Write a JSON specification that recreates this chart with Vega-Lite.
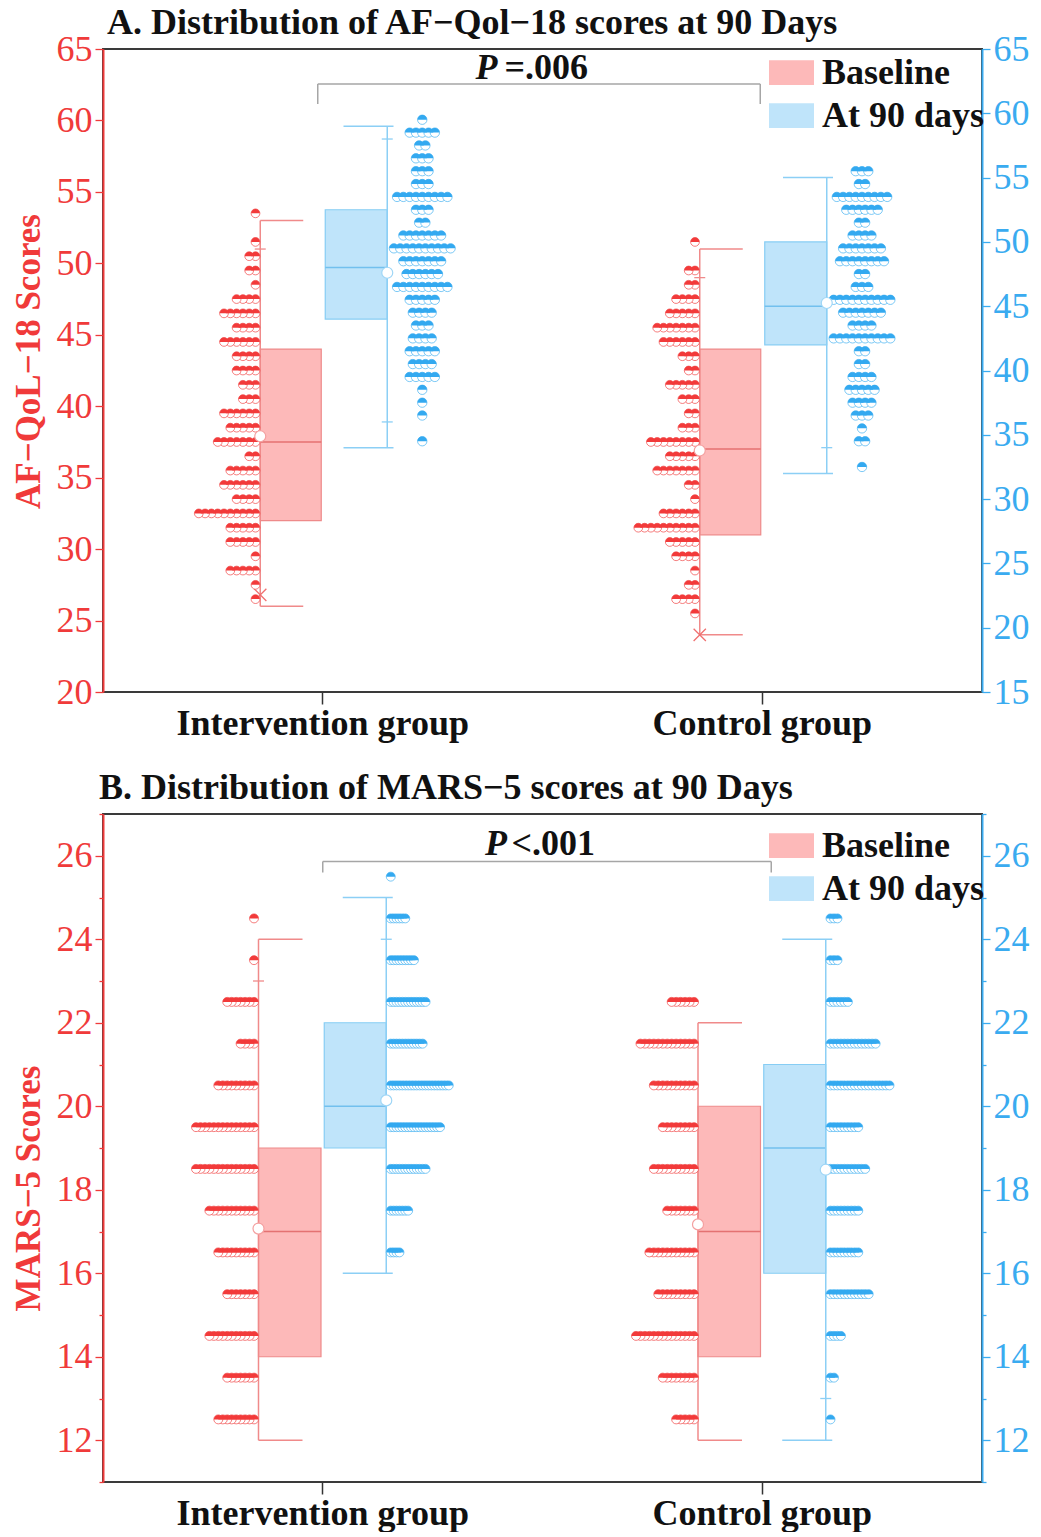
{
"$schema": "https://vega.github.io/schema/vega-lite/v6.json",
"background": "white",
"padding": {"left": 10, "top": 4, "right": 0, "bottom": 0},
"spacing": 27,
"config": {
 "font": "Liberation Serif",
 "view": {"stroke": "#3a3a3a", "strokeWidth": 2},
 "axis": {"labelFont": "Liberation Serif", "titleFont": "Liberation Serif", "grid": false},
 "title": {"font": "Liberation Serif", "fontSize": 36, "fontWeight": "bold", "color": "#111111", "anchor": "start", "frame": "group"}
},
"resolve": {"scale": {"color": "independent"}},
"datasets": {
 "sA": [
  {"g":"I","s":"Baseline","lo":26,"q1":32,"med":37.5,"q3":44,"hi":53,"mean":37.9},
  {"g":"C","s":"Baseline","lo":24,"q1":31,"med":37,"q3":44,"hi":51,"mean":36.9},
  {"g":"I","s":"At 90 days","lo":34,"q1":44,"med":48,"q3":52.5,"hi":59,"mean":47.6},
  {"g":"C","s":"At 90 days","lo":32,"q1":42,"med":45,"q3":50,"hi":55,"mean":45.25}
 ],
 "sB": [
  {"g":"I","s":"Baseline","lo":12,"q1":14,"med":17,"q3":19,"hi":24,"mean":17.07},
  {"g":"C","s":"Baseline","lo":12,"q1":14,"med":17,"q3":20,"hi":22,"mean":17.17},
  {"g":"I","s":"At 90 days","lo":16,"q1":19,"med":20,"q3":22,"hi":25,"mean":20.14},
  {"g":"C","s":"At 90 days","lo":12,"q1":16,"med":19,"q3":21,"hi":24,"mean":18.48}
 ],
 "mA": [
  {"g":"I","s":"b","v":51,"k":"dash"},{"g":"I","s":"b","v":26.8,"k":"cross"},
  {"g":"C","s":"b","v":49,"k":"dash"},{"g":"C","s":"b","v":24,"k":"cross"},
  {"g":"I","s":"a","v":58,"k":"dash"},{"g":"I","s":"a","v":36,"k":"dash"},
  {"g":"C","s":"a","v":34,"k":"dash"}
 ],
 "mB": [
  {"g":"I","s":"b","v":23,"k":"dash"},{"g":"I","s":"a","v":24,"k":"dash"},{"g":"C","s":"a","v":13,"k":"dash"}
 ],
 "nA": [{"g1":"I","g2":"C","top":62.55,"bot":61.15,"ty":62.9,"p":"P","t":"=.006"}],
 "nB": [{"g1":"I","g2":"C","top":25.86,"bot":25.6,"ty":26.02,"p":"P","t":"<.001"}],
 "Ab": [
  {"g":"I","v":53.5},
  {"g":"I","v":51.5},
  {"g":"I","v":50.5},{"g":"I","v":50.5},
  {"g":"I","v":49.5},{"g":"I","v":49.5},
  {"g":"I","v":48.5},
  {"g":"I","v":47.5},{"g":"I","v":47.5},{"g":"I","v":47.5},{"g":"I","v":47.5},
  {"g":"I","v":46.5},{"g":"I","v":46.5},{"g":"I","v":46.5},{"g":"I","v":46.5},{"g":"I","v":46.5},{"g":"I","v":46.5},
  {"g":"I","v":45.5},{"g":"I","v":45.5},{"g":"I","v":45.5},{"g":"I","v":45.5},
  {"g":"I","v":44.5},{"g":"I","v":44.5},{"g":"I","v":44.5},{"g":"I","v":44.5},{"g":"I","v":44.5},{"g":"I","v":44.5},
  {"g":"I","v":43.5},{"g":"I","v":43.5},{"g":"I","v":43.5},{"g":"I","v":43.5},
  {"g":"I","v":42.5},{"g":"I","v":42.5},{"g":"I","v":42.5},{"g":"I","v":42.5},
  {"g":"I","v":41.5},{"g":"I","v":41.5},{"g":"I","v":41.5},
  {"g":"I","v":40.5},{"g":"I","v":40.5},{"g":"I","v":40.5},
  {"g":"I","v":39.5},{"g":"I","v":39.5},{"g":"I","v":39.5},{"g":"I","v":39.5},{"g":"I","v":39.5},{"g":"I","v":39.5},
  {"g":"I","v":38.5},{"g":"I","v":38.5},{"g":"I","v":38.5},{"g":"I","v":38.5},{"g":"I","v":38.5},
  {"g":"I","v":37.5},{"g":"I","v":37.5},{"g":"I","v":37.5},{"g":"I","v":37.5},{"g":"I","v":37.5},{"g":"I","v":37.5},{"g":"I","v":37.5},
  {"g":"I","v":36.5},{"g":"I","v":36.5},
  {"g":"I","v":35.5},{"g":"I","v":35.5},{"g":"I","v":35.5},{"g":"I","v":35.5},{"g":"I","v":35.5},
  {"g":"I","v":34.5},{"g":"I","v":34.5},{"g":"I","v":34.5},{"g":"I","v":34.5},{"g":"I","v":34.5},{"g":"I","v":34.5},
  {"g":"I","v":33.5},{"g":"I","v":33.5},{"g":"I","v":33.5},{"g":"I","v":33.5},
  {"g":"I","v":32.5},{"g":"I","v":32.5},{"g":"I","v":32.5},{"g":"I","v":32.5},{"g":"I","v":32.5},{"g":"I","v":32.5},{"g":"I","v":32.5},{"g":"I","v":32.5},{"g":"I","v":32.5},{"g":"I","v":32.5},
  {"g":"I","v":31.5},{"g":"I","v":31.5},{"g":"I","v":31.5},{"g":"I","v":31.5},{"g":"I","v":31.5},
  {"g":"I","v":30.5},{"g":"I","v":30.5},{"g":"I","v":30.5},{"g":"I","v":30.5},{"g":"I","v":30.5},
  {"g":"I","v":29.5},
  {"g":"I","v":28.5},{"g":"I","v":28.5},{"g":"I","v":28.5},{"g":"I","v":28.5},{"g":"I","v":28.5},
  {"g":"I","v":27.5},
  {"g":"I","v":26.5},
  {"g":"C","v":51.5},
  {"g":"C","v":49.5},{"g":"C","v":49.5},
  {"g":"C","v":48.5},{"g":"C","v":48.5},
  {"g":"C","v":47.5},{"g":"C","v":47.5},{"g":"C","v":47.5},{"g":"C","v":47.5},
  {"g":"C","v":46.5},{"g":"C","v":46.5},{"g":"C","v":46.5},{"g":"C","v":46.5},{"g":"C","v":46.5},
  {"g":"C","v":45.5},{"g":"C","v":45.5},{"g":"C","v":45.5},{"g":"C","v":45.5},{"g":"C","v":45.5},{"g":"C","v":45.5},{"g":"C","v":45.5},
  {"g":"C","v":44.5},{"g":"C","v":44.5},{"g":"C","v":44.5},{"g":"C","v":44.5},{"g":"C","v":44.5},{"g":"C","v":44.5},
  {"g":"C","v":43.5},{"g":"C","v":43.5},{"g":"C","v":43.5},
  {"g":"C","v":42.5},{"g":"C","v":42.5},
  {"g":"C","v":41.5},{"g":"C","v":41.5},{"g":"C","v":41.5},{"g":"C","v":41.5},{"g":"C","v":41.5},
  {"g":"C","v":40.5},{"g":"C","v":40.5},{"g":"C","v":40.5},
  {"g":"C","v":39.5},{"g":"C","v":39.5},
  {"g":"C","v":38.5},{"g":"C","v":38.5},{"g":"C","v":38.5},
  {"g":"C","v":37.5},{"g":"C","v":37.5},{"g":"C","v":37.5},{"g":"C","v":37.5},{"g":"C","v":37.5},{"g":"C","v":37.5},{"g":"C","v":37.5},{"g":"C","v":37.5},
  {"g":"C","v":36.5},{"g":"C","v":36.5},{"g":"C","v":36.5},{"g":"C","v":36.5},{"g":"C","v":36.5},
  {"g":"C","v":35.5},{"g":"C","v":35.5},{"g":"C","v":35.5},{"g":"C","v":35.5},{"g":"C","v":35.5},{"g":"C","v":35.5},{"g":"C","v":35.5},
  {"g":"C","v":34.5},{"g":"C","v":34.5},
  {"g":"C","v":33.5},
  {"g":"C","v":32.5},{"g":"C","v":32.5},{"g":"C","v":32.5},{"g":"C","v":32.5},{"g":"C","v":32.5},{"g":"C","v":32.5},
  {"g":"C","v":31.5},{"g":"C","v":31.5},{"g":"C","v":31.5},{"g":"C","v":31.5},{"g":"C","v":31.5},{"g":"C","v":31.5},{"g":"C","v":31.5},{"g":"C","v":31.5},{"g":"C","v":31.5},{"g":"C","v":31.5},
  {"g":"C","v":30.5},{"g":"C","v":30.5},{"g":"C","v":30.5},{"g":"C","v":30.5},{"g":"C","v":30.5},
  {"g":"C","v":29.5},{"g":"C","v":29.5},{"g":"C","v":29.5},{"g":"C","v":29.5},
  {"g":"C","v":28.5},
  {"g":"C","v":27.5},{"g":"C","v":27.5},
  {"g":"C","v":26.5},{"g":"C","v":26.5},{"g":"C","v":26.5},{"g":"C","v":26.5},
  {"g":"C","v":25.5}
 ],
 "Aa": [
  {"g":"I","v":59.5},
  {"g":"I","v":58.5},{"g":"I","v":58.5},{"g":"I","v":58.5},{"g":"I","v":58.5},{"g":"I","v":58.5},
  {"g":"I","v":57.5},{"g":"I","v":57.5},
  {"g":"I","v":56.5},{"g":"I","v":56.5},{"g":"I","v":56.5},
  {"g":"I","v":55.5},{"g":"I","v":55.5},{"g":"I","v":55.5},
  {"g":"I","v":54.5},{"g":"I","v":54.5},{"g":"I","v":54.5},
  {"g":"I","v":53.5},{"g":"I","v":53.5},{"g":"I","v":53.5},{"g":"I","v":53.5},{"g":"I","v":53.5},{"g":"I","v":53.5},{"g":"I","v":53.5},{"g":"I","v":53.5},{"g":"I","v":53.5},
  {"g":"I","v":52.5},{"g":"I","v":52.5},{"g":"I","v":52.5},
  {"g":"I","v":51.5},{"g":"I","v":51.5},
  {"g":"I","v":50.5},{"g":"I","v":50.5},{"g":"I","v":50.5},{"g":"I","v":50.5},{"g":"I","v":50.5},{"g":"I","v":50.5},{"g":"I","v":50.5},
  {"g":"I","v":49.5},{"g":"I","v":49.5},{"g":"I","v":49.5},{"g":"I","v":49.5},{"g":"I","v":49.5},{"g":"I","v":49.5},{"g":"I","v":49.5},{"g":"I","v":49.5},{"g":"I","v":49.5},{"g":"I","v":49.5},
  {"g":"I","v":48.5},{"g":"I","v":48.5},{"g":"I","v":48.5},{"g":"I","v":48.5},{"g":"I","v":48.5},{"g":"I","v":48.5},{"g":"I","v":48.5},
  {"g":"I","v":47.5},{"g":"I","v":47.5},{"g":"I","v":47.5},{"g":"I","v":47.5},{"g":"I","v":47.5},{"g":"I","v":47.5},
  {"g":"I","v":46.5},{"g":"I","v":46.5},{"g":"I","v":46.5},{"g":"I","v":46.5},{"g":"I","v":46.5},{"g":"I","v":46.5},{"g":"I","v":46.5},{"g":"I","v":46.5},{"g":"I","v":46.5},
  {"g":"I","v":45.5},{"g":"I","v":45.5},{"g":"I","v":45.5},{"g":"I","v":45.5},{"g":"I","v":45.5},
  {"g":"I","v":44.5},{"g":"I","v":44.5},{"g":"I","v":44.5},{"g":"I","v":44.5},
  {"g":"I","v":43.5},{"g":"I","v":43.5},{"g":"I","v":43.5},
  {"g":"I","v":42.5},{"g":"I","v":42.5},{"g":"I","v":42.5},{"g":"I","v":42.5},
  {"g":"I","v":41.5},{"g":"I","v":41.5},{"g":"I","v":41.5},{"g":"I","v":41.5},{"g":"I","v":41.5},
  {"g":"I","v":40.5},{"g":"I","v":40.5},{"g":"I","v":40.5},{"g":"I","v":40.5},
  {"g":"I","v":39.5},{"g":"I","v":39.5},{"g":"I","v":39.5},{"g":"I","v":39.5},{"g":"I","v":39.5},
  {"g":"I","v":38.5},
  {"g":"I","v":37.5},
  {"g":"I","v":36.5},
  {"g":"I","v":34.5},
  {"g":"C","v":55.5},{"g":"C","v":55.5},{"g":"C","v":55.5},
  {"g":"C","v":54.5},{"g":"C","v":54.5},
  {"g":"C","v":53.5},{"g":"C","v":53.5},{"g":"C","v":53.5},{"g":"C","v":53.5},{"g":"C","v":53.5},{"g":"C","v":53.5},{"g":"C","v":53.5},{"g":"C","v":53.5},{"g":"C","v":53.5},
  {"g":"C","v":52.5},{"g":"C","v":52.5},{"g":"C","v":52.5},{"g":"C","v":52.5},{"g":"C","v":52.5},{"g":"C","v":52.5},
  {"g":"C","v":51.5},{"g":"C","v":51.5},
  {"g":"C","v":50.5},{"g":"C","v":50.5},{"g":"C","v":50.5},{"g":"C","v":50.5},
  {"g":"C","v":49.5},{"g":"C","v":49.5},{"g":"C","v":49.5},{"g":"C","v":49.5},{"g":"C","v":49.5},{"g":"C","v":49.5},{"g":"C","v":49.5},
  {"g":"C","v":48.5},{"g":"C","v":48.5},{"g":"C","v":48.5},{"g":"C","v":48.5},{"g":"C","v":48.5},{"g":"C","v":48.5},{"g":"C","v":48.5},{"g":"C","v":48.5},
  {"g":"C","v":47.5},{"g":"C","v":47.5},
  {"g":"C","v":46.5},{"g":"C","v":46.5},{"g":"C","v":46.5},
  {"g":"C","v":45.5},{"g":"C","v":45.5},{"g":"C","v":45.5},{"g":"C","v":45.5},{"g":"C","v":45.5},{"g":"C","v":45.5},{"g":"C","v":45.5},{"g":"C","v":45.5},{"g":"C","v":45.5},{"g":"C","v":45.5},
  {"g":"C","v":44.5},{"g":"C","v":44.5},{"g":"C","v":44.5},{"g":"C","v":44.5},{"g":"C","v":44.5},{"g":"C","v":44.5},{"g":"C","v":44.5},
  {"g":"C","v":43.5},{"g":"C","v":43.5},{"g":"C","v":43.5},{"g":"C","v":43.5},
  {"g":"C","v":42.5},{"g":"C","v":42.5},{"g":"C","v":42.5},{"g":"C","v":42.5},{"g":"C","v":42.5},{"g":"C","v":42.5},{"g":"C","v":42.5},{"g":"C","v":42.5},{"g":"C","v":42.5},{"g":"C","v":42.5},
  {"g":"C","v":41.5},{"g":"C","v":41.5},
  {"g":"C","v":40.5},{"g":"C","v":40.5},
  {"g":"C","v":39.5},{"g":"C","v":39.5},{"g":"C","v":39.5},{"g":"C","v":39.5},
  {"g":"C","v":38.5},{"g":"C","v":38.5},{"g":"C","v":38.5},{"g":"C","v":38.5},{"g":"C","v":38.5},
  {"g":"C","v":37.5},{"g":"C","v":37.5},{"g":"C","v":37.5},{"g":"C","v":37.5},
  {"g":"C","v":36.5},{"g":"C","v":36.5},{"g":"C","v":36.5},
  {"g":"C","v":35.5},
  {"g":"C","v":34.5},{"g":"C","v":34.5},
  {"g":"C","v":32.5}
 ],
 "Bb": [
  {"g":"I","v":24.5},
  {"g":"I","v":23.5},
  {"g":"I","v":22.5},{"g":"I","v":22.5},{"g":"I","v":22.5},{"g":"I","v":22.5},{"g":"I","v":22.5},{"g":"I","v":22.5},{"g":"I","v":22.5},
  {"g":"I","v":21.5},{"g":"I","v":21.5},{"g":"I","v":21.5},{"g":"I","v":21.5},
  {"g":"I","v":20.5},{"g":"I","v":20.5},{"g":"I","v":20.5},{"g":"I","v":20.5},{"g":"I","v":20.5},{"g":"I","v":20.5},{"g":"I","v":20.5},{"g":"I","v":20.5},{"g":"I","v":20.5},
  {"g":"I","v":19.5},{"g":"I","v":19.5},{"g":"I","v":19.5},{"g":"I","v":19.5},{"g":"I","v":19.5},{"g":"I","v":19.5},{"g":"I","v":19.5},{"g":"I","v":19.5},{"g":"I","v":19.5},{"g":"I","v":19.5},{"g":"I","v":19.5},{"g":"I","v":19.5},{"g":"I","v":19.5},{"g":"I","v":19.5},
  {"g":"I","v":18.5},{"g":"I","v":18.5},{"g":"I","v":18.5},{"g":"I","v":18.5},{"g":"I","v":18.5},{"g":"I","v":18.5},{"g":"I","v":18.5},{"g":"I","v":18.5},{"g":"I","v":18.5},{"g":"I","v":18.5},{"g":"I","v":18.5},{"g":"I","v":18.5},{"g":"I","v":18.5},{"g":"I","v":18.5},
  {"g":"I","v":17.5},{"g":"I","v":17.5},{"g":"I","v":17.5},{"g":"I","v":17.5},{"g":"I","v":17.5},{"g":"I","v":17.5},{"g":"I","v":17.5},{"g":"I","v":17.5},{"g":"I","v":17.5},{"g":"I","v":17.5},{"g":"I","v":17.5},
  {"g":"I","v":16.5},{"g":"I","v":16.5},{"g":"I","v":16.5},{"g":"I","v":16.5},{"g":"I","v":16.5},{"g":"I","v":16.5},{"g":"I","v":16.5},{"g":"I","v":16.5},{"g":"I","v":16.5},
  {"g":"I","v":15.5},{"g":"I","v":15.5},{"g":"I","v":15.5},{"g":"I","v":15.5},{"g":"I","v":15.5},{"g":"I","v":15.5},{"g":"I","v":15.5},
  {"g":"I","v":14.5},{"g":"I","v":14.5},{"g":"I","v":14.5},{"g":"I","v":14.5},{"g":"I","v":14.5},{"g":"I","v":14.5},{"g":"I","v":14.5},{"g":"I","v":14.5},{"g":"I","v":14.5},{"g":"I","v":14.5},{"g":"I","v":14.5},
  {"g":"I","v":13.5},{"g":"I","v":13.5},{"g":"I","v":13.5},{"g":"I","v":13.5},{"g":"I","v":13.5},{"g":"I","v":13.5},{"g":"I","v":13.5},
  {"g":"I","v":12.5},{"g":"I","v":12.5},{"g":"I","v":12.5},{"g":"I","v":12.5},{"g":"I","v":12.5},{"g":"I","v":12.5},{"g":"I","v":12.5},{"g":"I","v":12.5},{"g":"I","v":12.5},
  {"g":"C","v":22.5},{"g":"C","v":22.5},{"g":"C","v":22.5},{"g":"C","v":22.5},{"g":"C","v":22.5},{"g":"C","v":22.5},
  {"g":"C","v":21.5},{"g":"C","v":21.5},{"g":"C","v":21.5},{"g":"C","v":21.5},{"g":"C","v":21.5},{"g":"C","v":21.5},{"g":"C","v":21.5},{"g":"C","v":21.5},{"g":"C","v":21.5},{"g":"C","v":21.5},{"g":"C","v":21.5},{"g":"C","v":21.5},{"g":"C","v":21.5},
  {"g":"C","v":20.5},{"g":"C","v":20.5},{"g":"C","v":20.5},{"g":"C","v":20.5},{"g":"C","v":20.5},{"g":"C","v":20.5},{"g":"C","v":20.5},{"g":"C","v":20.5},{"g":"C","v":20.5},{"g":"C","v":20.5},
  {"g":"C","v":19.5},{"g":"C","v":19.5},{"g":"C","v":19.5},{"g":"C","v":19.5},{"g":"C","v":19.5},{"g":"C","v":19.5},{"g":"C","v":19.5},{"g":"C","v":19.5},
  {"g":"C","v":18.5},{"g":"C","v":18.5},{"g":"C","v":18.5},{"g":"C","v":18.5},{"g":"C","v":18.5},{"g":"C","v":18.5},{"g":"C","v":18.5},{"g":"C","v":18.5},{"g":"C","v":18.5},{"g":"C","v":18.5},
  {"g":"C","v":17.5},{"g":"C","v":17.5},{"g":"C","v":17.5},{"g":"C","v":17.5},{"g":"C","v":17.5},{"g":"C","v":17.5},{"g":"C","v":17.5},
  {"g":"C","v":16.5},{"g":"C","v":16.5},{"g":"C","v":16.5},{"g":"C","v":16.5},{"g":"C","v":16.5},{"g":"C","v":16.5},{"g":"C","v":16.5},{"g":"C","v":16.5},{"g":"C","v":16.5},{"g":"C","v":16.5},{"g":"C","v":16.5},
  {"g":"C","v":15.5},{"g":"C","v":15.5},{"g":"C","v":15.5},{"g":"C","v":15.5},{"g":"C","v":15.5},{"g":"C","v":15.5},{"g":"C","v":15.5},{"g":"C","v":15.5},{"g":"C","v":15.5},
  {"g":"C","v":14.5},{"g":"C","v":14.5},{"g":"C","v":14.5},{"g":"C","v":14.5},{"g":"C","v":14.5},{"g":"C","v":14.5},{"g":"C","v":14.5},{"g":"C","v":14.5},{"g":"C","v":14.5},{"g":"C","v":14.5},{"g":"C","v":14.5},{"g":"C","v":14.5},{"g":"C","v":14.5},{"g":"C","v":14.5},
  {"g":"C","v":13.5},{"g":"C","v":13.5},{"g":"C","v":13.5},{"g":"C","v":13.5},{"g":"C","v":13.5},{"g":"C","v":13.5},{"g":"C","v":13.5},{"g":"C","v":13.5},
  {"g":"C","v":12.5},{"g":"C","v":12.5},{"g":"C","v":12.5},{"g":"C","v":12.5},{"g":"C","v":12.5}
 ],
 "Ba": [
  {"g":"I","v":25.5},
  {"g":"I","v":24.5},{"g":"I","v":24.5},{"g":"I","v":24.5},{"g":"I","v":24.5},{"g":"I","v":24.5},{"g":"I","v":24.5},
  {"g":"I","v":23.5},{"g":"I","v":23.5},{"g":"I","v":23.5},{"g":"I","v":23.5},{"g":"I","v":23.5},{"g":"I","v":23.5},{"g":"I","v":23.5},{"g":"I","v":23.5},{"g":"I","v":23.5},
  {"g":"I","v":22.5},{"g":"I","v":22.5},{"g":"I","v":22.5},{"g":"I","v":22.5},{"g":"I","v":22.5},{"g":"I","v":22.5},{"g":"I","v":22.5},{"g":"I","v":22.5},{"g":"I","v":22.5},{"g":"I","v":22.5},{"g":"I","v":22.5},{"g":"I","v":22.5},{"g":"I","v":22.5},
  {"g":"I","v":21.5},{"g":"I","v":21.5},{"g":"I","v":21.5},{"g":"I","v":21.5},{"g":"I","v":21.5},{"g":"I","v":21.5},{"g":"I","v":21.5},{"g":"I","v":21.5},{"g":"I","v":21.5},{"g":"I","v":21.5},{"g":"I","v":21.5},{"g":"I","v":21.5},
  {"g":"I","v":20.5},{"g":"I","v":20.5},{"g":"I","v":20.5},{"g":"I","v":20.5},{"g":"I","v":20.5},{"g":"I","v":20.5},{"g":"I","v":20.5},{"g":"I","v":20.5},{"g":"I","v":20.5},{"g":"I","v":20.5},{"g":"I","v":20.5},{"g":"I","v":20.5},{"g":"I","v":20.5},{"g":"I","v":20.5},{"g":"I","v":20.5},{"g":"I","v":20.5},{"g":"I","v":20.5},{"g":"I","v":20.5},{"g":"I","v":20.5},{"g":"I","v":20.5},{"g":"I","v":20.5},
  {"g":"I","v":19.5},{"g":"I","v":19.5},{"g":"I","v":19.5},{"g":"I","v":19.5},{"g":"I","v":19.5},{"g":"I","v":19.5},{"g":"I","v":19.5},{"g":"I","v":19.5},{"g":"I","v":19.5},{"g":"I","v":19.5},{"g":"I","v":19.5},{"g":"I","v":19.5},{"g":"I","v":19.5},{"g":"I","v":19.5},{"g":"I","v":19.5},{"g":"I","v":19.5},{"g":"I","v":19.5},{"g":"I","v":19.5},
  {"g":"I","v":18.5},{"g":"I","v":18.5},{"g":"I","v":18.5},{"g":"I","v":18.5},{"g":"I","v":18.5},{"g":"I","v":18.5},{"g":"I","v":18.5},{"g":"I","v":18.5},{"g":"I","v":18.5},{"g":"I","v":18.5},{"g":"I","v":18.5},{"g":"I","v":18.5},{"g":"I","v":18.5},
  {"g":"I","v":17.5},{"g":"I","v":17.5},{"g":"I","v":17.5},{"g":"I","v":17.5},{"g":"I","v":17.5},{"g":"I","v":17.5},{"g":"I","v":17.5},
  {"g":"I","v":16.5},{"g":"I","v":16.5},{"g":"I","v":16.5},{"g":"I","v":16.5},
  {"g":"C","v":24.5},{"g":"C","v":24.5},{"g":"C","v":24.5},
  {"g":"C","v":23.5},{"g":"C","v":23.5},{"g":"C","v":23.5},
  {"g":"C","v":22.5},{"g":"C","v":22.5},{"g":"C","v":22.5},{"g":"C","v":22.5},{"g":"C","v":22.5},{"g":"C","v":22.5},
  {"g":"C","v":21.5},{"g":"C","v":21.5},{"g":"C","v":21.5},{"g":"C","v":21.5},{"g":"C","v":21.5},{"g":"C","v":21.5},{"g":"C","v":21.5},{"g":"C","v":21.5},{"g":"C","v":21.5},{"g":"C","v":21.5},{"g":"C","v":21.5},{"g":"C","v":21.5},{"g":"C","v":21.5},{"g":"C","v":21.5},
  {"g":"C","v":20.5},{"g":"C","v":20.5},{"g":"C","v":20.5},{"g":"C","v":20.5},{"g":"C","v":20.5},{"g":"C","v":20.5},{"g":"C","v":20.5},{"g":"C","v":20.5},{"g":"C","v":20.5},{"g":"C","v":20.5},{"g":"C","v":20.5},{"g":"C","v":20.5},{"g":"C","v":20.5},{"g":"C","v":20.5},{"g":"C","v":20.5},{"g":"C","v":20.5},{"g":"C","v":20.5},{"g":"C","v":20.5},
  {"g":"C","v":19.5},{"g":"C","v":19.5},{"g":"C","v":19.5},{"g":"C","v":19.5},{"g":"C","v":19.5},{"g":"C","v":19.5},{"g":"C","v":19.5},{"g":"C","v":19.5},{"g":"C","v":19.5},
  {"g":"C","v":18.5},{"g":"C","v":18.5},{"g":"C","v":18.5},{"g":"C","v":18.5},{"g":"C","v":18.5},{"g":"C","v":18.5},{"g":"C","v":18.5},{"g":"C","v":18.5},{"g":"C","v":18.5},{"g":"C","v":18.5},{"g":"C","v":18.5},
  {"g":"C","v":17.5},{"g":"C","v":17.5},{"g":"C","v":17.5},{"g":"C","v":17.5},{"g":"C","v":17.5},{"g":"C","v":17.5},{"g":"C","v":17.5},{"g":"C","v":17.5},{"g":"C","v":17.5},
  {"g":"C","v":16.5},{"g":"C","v":16.5},{"g":"C","v":16.5},{"g":"C","v":16.5},{"g":"C","v":16.5},{"g":"C","v":16.5},{"g":"C","v":16.5},{"g":"C","v":16.5},{"g":"C","v":16.5},
  {"g":"C","v":15.5},{"g":"C","v":15.5},{"g":"C","v":15.5},{"g":"C","v":15.5},{"g":"C","v":15.5},{"g":"C","v":15.5},{"g":"C","v":15.5},{"g":"C","v":15.5},{"g":"C","v":15.5},{"g":"C","v":15.5},{"g":"C","v":15.5},{"g":"C","v":15.5},
  {"g":"C","v":14.5},{"g":"C","v":14.5},{"g":"C","v":14.5},{"g":"C","v":14.5},
  {"g":"C","v":13.5},{"g":"C","v":13.5},
  {"g":"C","v":12.5}
 ]
},
"vconcat": [
 {
  "title": {"text": "A. Distribution of AF−Qol−18 scores at 90 Days", "offset": -47, "baseline": "bottom", "dx": 4},
  "width": 879, "height": 643,
  "resolve": {"scale": {"y": "independent", "xOffset": "independent"}},
  "layer": [
   {
    "resolve": {"scale": {"xOffset": "independent"}},
    "layer": [
     {
      "data": {"name": "sA"},
      "transform": [{"filter": "datum.s == 'Baseline'"}],
      "mark": {"type": "bar", "width": 61, "xOffset": -32, "stroke": "#ee8a8a", "strokeWidth": 1.2, "opacity": 1},
      "encoding": {
       "x": {"field": "g", "type": "nominal", "scale": {"type": "band", "domain": ["I", "C"], "paddingInner": 0, "paddingOuter": 0},
             "axis": {"orient": "bottom", "title": null, "labelExpr": "datum.value == 'I' ? 'Intervention group' : 'Control group'", "labelAngle": 0, "labelFontSize": 36, "labelFontWeight": "bold", "labelColor": "#111111", "labelPadding": 2, "labelLimit": 600, "tickColor": "#333333", "tickSize": 12, "tickWidth": 1.5, "domain": false}},
       "y": {"field": "q1", "type": "quantitative", "scale": {"domain": [20, 65], "nice": false, "zero": false},
             "axis": {"orient": "left", "title": "AF−QoL−18 Scores", "titleColor": "#f03a3a", "titleFontSize": 35, "titleFontWeight": "bold", "titlePadding": 10, "titleY": 312,
                      "values": [20, 22.5, 25, 27.5, 30, 32.5, 35, 37.5, 40, 42.5, 45, 47.5, 50, 52.5, 55, 57.5, 60, 62.5, 65],
                      "labelExpr": "datum.value % 5 === 0 ? datum.label : ''", "format": "d", "labelColor": "#f03a3a", "labelFontSize": 36, "labelPadding": 3, "labelFlush": false, "labelOverlap": false,
                      "tickColor": "#f03a3a", "tickWidth": 1.3, "tickSize": {"condition": {"test": "datum.value % 5 !== 0", "value": 4}, "value": 8},
                      "domainColor": "#f03a3a", "domainWidth": 2}},
       "y2": {"field": "q3"},
       "color": {"field": "s", "type": "nominal", "scale": {"domain": ["Baseline", "At 90 days"], "range": ["#fdb9b9", "#bfe4fa"]},
                 "legend": {"orient": "none", "legendX": 666, "legendY": 1, "title": null, "symbolType": "M-1,-0.55H1V0.55H-1Z", "symbolSize": 2025, "symbolStrokeWidth": 0, "labelFontSize": 36, "labelFontWeight": "bold", "labelColor": "#111111", "labelFont": "Liberation Serif", "labelOffset": 8, "rowPadding": 2, "padding": 0, "labelLimit": 300}}
      }
     },
     {"data": {"name": "sA"}, "transform": [{"filter": "datum.s == 'Baseline'"}],
      "mark": {"type": "tick", "size": 61, "thickness": 1.5, "xOffset": -32, "color": "#e47272", "opacity": 1},
      "encoding": {"x": {"field": "g", "type": "nominal"}, "y": {"field": "med", "type": "quantitative"}}},
     {"data": {"name": "sA"}, "transform": [{"filter": "datum.s == 'Baseline'"}],
      "mark": {"type": "rule", "xOffset": -62.5, "color": "#f08a8a", "strokeWidth": 1.5},
      "encoding": {"x": {"field": "g", "type": "nominal"}, "y": {"field": "lo", "type": "quantitative"}, "y2": {"field": "hi"}}},
     {"data": {"name": "sA"}, "transform": [{"filter": "datum.s == 'Baseline'"}],
      "mark": {"type": "tick", "size": 43, "thickness": 1.5, "xOffset": -41, "color": "#f08a8a", "opacity": 1},
      "encoding": {"x": {"field": "g", "type": "nominal"}, "y": {"field": "lo", "type": "quantitative"}}},
     {"data": {"name": "sA"}, "transform": [{"filter": "datum.s == 'Baseline'"}],
      "mark": {"type": "tick", "size": 43, "thickness": 1.5, "xOffset": -41, "color": "#f08a8a", "opacity": 1},
      "encoding": {"x": {"field": "g", "type": "nominal"}, "y": {"field": "hi", "type": "quantitative"}}},
     {"data": {"name": "mA"}, "transform": [{"filter": "datum.s == 'b' && datum.k == 'dash'"}],
      "mark": {"type": "tick", "size": 11, "thickness": 1.3, "xOffset": -62.5, "color": "#f08a8a", "opacity": 1},
      "encoding": {"x": {"field": "g", "type": "nominal"}, "y": {"field": "v", "type": "quantitative"}}},
     {"data": {"name": "mA"}, "transform": [{"filter": "datum.s == 'b' && datum.k == 'cross'"}],
      "mark": {"type": "point", "shape": "M-1,-1L1,1M-1,1L1,-1", "filled": false, "stroke": "#f07070", "strokeWidth": 1.3, "size": 150, "xOffset": -62.5, "opacity": 1},
      "encoding": {"x": {"field": "g", "type": "nominal"}, "y": {"field": "v", "type": "quantitative"}}},
     {"data": {"name": "Ab"},
      "transform": [{"filter": "datum.g == 'I'"}, {"window": [{"op": "count", "as": "one"}], "frame": [0, 0]}, {"stack": "one", "groupby": ["v"], "as": ["k0", "k1"]}],
      "encoding": {"x": {"field": "g", "type": "nominal"}, "xOffset": {"field": "k0", "type": "quantitative", "scale": {"domain": [0, 10], "range": [152.5, 89.5]}}, "y": {"field": "v", "type": "quantitative"}},
      "layer": [
       {"mark": {"type": "point", "shape": "circle", "filled": true, "fill": "#ffffff", "stroke": "#f04646", "strokeWidth": 0.7, "size": 77, "opacity": 1}},
       {"mark": {"type": "point", "shape": "M-1,0A1,1 0 0 1 1,0Z", "filled": true, "fill": "#f23a3a", "strokeWidth": 0, "size": 77, "opacity": 1}}
      ]},
     {"data": {"name": "Ab"},
      "transform": [{"filter": "datum.g == 'C'"}, {"window": [{"op": "count", "as": "one"}], "frame": [0, 0]}, {"stack": "one", "groupby": ["v"], "as": ["k0", "k1"]}],
      "encoding": {"x": {"field": "g", "type": "nominal"}, "xOffset": {"field": "k0", "type": "quantitative", "scale": {"domain": [0, 10], "range": [152.5, 89.5]}}, "y": {"field": "v", "type": "quantitative"}},
      "layer": [
       {"mark": {"type": "point", "shape": "circle", "filled": true, "fill": "#ffffff", "stroke": "#f04646", "strokeWidth": 0.7, "size": 77, "opacity": 1}},
       {"mark": {"type": "point", "shape": "M-1,0A1,1 0 0 1 1,0Z", "filled": true, "fill": "#f23a3a", "strokeWidth": 0, "size": 77, "opacity": 1}}
      ]},
     {"data": {"name": "sA"}, "transform": [{"filter": "datum.s == 'Baseline'"}],
      "mark": {"type": "point", "shape": "circle", "filled": true, "fill": "#ffffff", "stroke": "#f4a0a0", "strokeWidth": 1.2, "size": 121, "xOffset": -62.5, "opacity": 1},
      "encoding": {"x": {"field": "g", "type": "nominal"}, "y": {"field": "mean", "type": "quantitative"}}},
     {"data": {"name": "nA"},
      "mark": {"type": "rule", "color": "#a6a6a6", "strokeWidth": 1.5, "xOffset": -5, "x2Offset": -2},
      "encoding": {"x": {"field": "g1", "type": "nominal"}, "x2": {"field": "g2"}, "y": {"field": "top", "type": "quantitative"}}},
     {"data": {"name": "nA"},
      "mark": {"type": "rule", "color": "#a6a6a6", "strokeWidth": 1.5, "xOffset": -5},
      "encoding": {"x": {"field": "g1", "type": "nominal"}, "y": {"field": "top", "type": "quantitative"}, "y2": {"field": "bot"}}},
     {"data": {"name": "nA"},
      "mark": {"type": "rule", "color": "#a6a6a6", "strokeWidth": 1.5, "xOffset": -2},
      "encoding": {"x": {"field": "g2", "type": "nominal"}, "y": {"field": "top", "type": "quantitative"}, "y2": {"field": "bot"}}},
     {"data": {"name": "nA"},
      "mark": {"type": "text", "font": "Liberation Serif", "fontSize": 36, "fontWeight": "bold", "fontStyle": "italic", "align": "right", "baseline": "alphabetic", "dx": -45, "color": "#111111"},
      "encoding": {"x": {"field": "g1", "type": "nominal", "bandPosition": 1}, "y": {"field": "ty", "type": "quantitative"}, "text": {"field": "p"}}},
     {"data": {"name": "nA"},
      "mark": {"type": "text", "font": "Liberation Serif", "fontSize": 36, "fontWeight": "bold", "align": "left", "baseline": "alphabetic", "dx": -38, "color": "#111111"},
      "encoding": {"x": {"field": "g1", "type": "nominal", "bandPosition": 1}, "y": {"field": "ty", "type": "quantitative"}, "text": {"field": "t"}}}
    ]
   },
   {
    "resolve": {"scale": {"xOffset": "independent"}},
    "layer": [
     {
      "data": {"name": "sA"},
      "transform": [{"filter": "datum.s == 'At 90 days'"}],
      "mark": {"type": "bar", "width": 62, "xOffset": 33.5, "stroke": "#87cdf4", "strokeWidth": 1.2, "opacity": 1},
      "encoding": {
       "x": {"field": "g", "type": "nominal"},
       "y": {"field": "q1", "type": "quantitative", "scale": {"domain": [15, 65], "nice": false, "zero": false},
             "axis": {"orient": "right", "title": null,
                      "values": [15, 17.5, 20, 22.5, 25, 27.5, 30, 32.5, 35, 37.5, 40, 42.5, 45, 47.5, 50, 52.5, 55, 57.5, 60, 62.5, 65],
                      "labelExpr": "datum.value % 5 === 0 ? datum.label : ''", "format": "d", "labelColor": "#3aabf0", "labelFontSize": 36, "labelPadding": 3, "labelFlush": false, "labelOverlap": false,
                      "tickColor": "#3aabf0", "tickWidth": 1.3, "tickSize": {"condition": {"test": "datum.value % 5 !== 0", "value": 4}, "value": 8},
                      "domainColor": "#3aabf0", "domainWidth": 2}},
       "y2": {"field": "q3"},
       "color": {"field": "s", "type": "nominal", "scale": {"domain": ["Baseline", "At 90 days"], "range": ["#fdb9b9", "#bfe4fa"]},
                 "legend": {"orient": "none", "legendX": 666, "legendY": 1, "title": null, "symbolType": "M-1,-0.55H1V0.55H-1Z", "symbolSize": 2025, "symbolStrokeWidth": 0, "labelFontSize": 36, "labelFontWeight": "bold", "labelColor": "#111111", "labelFont": "Liberation Serif", "labelOffset": 8, "rowPadding": 2, "padding": 0, "labelLimit": 300}}
      }
     },
     {"data": {"name": "sA"}, "transform": [{"filter": "datum.s == 'At 90 days'"}],
      "mark": {"type": "tick", "size": 62, "thickness": 1.5, "xOffset": 33.5, "color": "#72c0ee", "opacity": 1},
      "encoding": {"x": {"field": "g", "type": "nominal"}, "y": {"field": "med", "type": "quantitative"}}},
     {"data": {"name": "sA"}, "transform": [{"filter": "datum.s == 'At 90 days'"}],
      "mark": {"type": "rule", "xOffset": 64.5, "color": "#8ccff5", "strokeWidth": 1.5},
      "encoding": {"x": {"field": "g", "type": "nominal"}, "y": {"field": "lo", "type": "quantitative"}, "y2": {"field": "hi"}}},
     {"data": {"name": "sA"}, "transform": [{"filter": "datum.s == 'At 90 days'"}],
      "mark": {"type": "tick", "size": 50, "thickness": 1.5, "xOffset": 45.75, "color": "#8ccff5", "opacity": 1},
      "encoding": {"x": {"field": "g", "type": "nominal"}, "y": {"field": "lo", "type": "quantitative"}}},
     {"data": {"name": "sA"}, "transform": [{"filter": "datum.s == 'At 90 days'"}],
      "mark": {"type": "tick", "size": 50, "thickness": 1.5, "xOffset": 45.75, "color": "#8ccff5", "opacity": 1},
      "encoding": {"x": {"field": "g", "type": "nominal"}, "y": {"field": "hi", "type": "quantitative"}}},
     {"data": {"name": "mA"}, "transform": [{"filter": "datum.s == 'a' && datum.k == 'dash'"}],
      "mark": {"type": "tick", "size": 11, "thickness": 1.3, "xOffset": 64.5, "color": "#8ccff5", "opacity": 1},
      "encoding": {"x": {"field": "g", "type": "nominal"}, "y": {"field": "v", "type": "quantitative"}}},
     {"data": {"name": "Aa"},
      "transform": [{"filter": "datum.g == 'I'"}, {"window": [{"op": "count", "as": "one"}], "frame": [0, 0]}, {"stack": "one", "groupby": ["v"], "offset": "center", "as": ["k0", "k1"]}],
      "encoding": {"x": {"field": "g", "type": "nominal"}, "xOffset": {"field": "k0", "type": "quantitative", "scale": {"domain": [0, 10], "range": [290.9, 353.9]}}, "y": {"field": "v", "type": "quantitative"}},
      "layer": [
       {"mark": {"type": "point", "shape": "circle", "filled": true, "fill": "#ffffff", "stroke": "#45b2f0", "strokeWidth": 0.7, "size": 88, "opacity": 1}},
       {"mark": {"type": "point", "shape": "M-1,0A1,1 0 0 1 1,0Z", "filled": true, "fill": "#33a9f0", "strokeWidth": 0, "size": 88, "opacity": 1}}
      ]},
     {"data": {"name": "Aa"},
      "transform": [{"filter": "datum.g == 'C'"}, {"window": [{"op": "count", "as": "one"}], "frame": [0, 0]}, {"stack": "one", "groupby": ["v"], "offset": "center", "as": ["k0", "k1"]}],
      "encoding": {"x": {"field": "g", "type": "nominal"}, "xOffset": {"field": "k0", "type": "quantitative", "scale": {"domain": [0, 10], "range": [291.15, 354.15]}}, "y": {"field": "v", "type": "quantitative"}},
      "layer": [
       {"mark": {"type": "point", "shape": "circle", "filled": true, "fill": "#ffffff", "stroke": "#45b2f0", "strokeWidth": 0.7, "size": 88, "opacity": 1}},
       {"mark": {"type": "point", "shape": "M-1,0A1,1 0 0 1 1,0Z", "filled": true, "fill": "#33a9f0", "strokeWidth": 0, "size": 88, "opacity": 1}}
      ]},
     {"data": {"name": "sA"}, "transform": [{"filter": "datum.s == 'At 90 days'"}],
      "mark": {"type": "point", "shape": "circle", "filled": true, "fill": "#ffffff", "stroke": "#9fd6f6", "strokeWidth": 1.2, "size": 121, "xOffset": 64.5, "opacity": 1},
      "encoding": {"x": {"field": "g", "type": "nominal"}, "y": {"field": "mean", "type": "quantitative"}}}
    ]
   }
  ]
 },
 {
  "title": {"text": "B. Distribution of  MARS−5 scores at 90 Days", "offset": -47, "baseline": "bottom", "dx": -4},
  "width": 879, "height": 668,
  "resolve": {"scale": {"y": "independent", "xOffset": "independent"}},
  "layer": [
   {
    "resolve": {"scale": {"xOffset": "independent"}},
    "layer": [
     {
      "data": {"name": "sB"},
      "transform": [{"filter": "datum.s == 'Baseline'"}],
      "mark": {"type": "bar", "width": 62.5, "xOffset": -33, "stroke": "#ee8a8a", "strokeWidth": 1.2, "opacity": 1},
      "encoding": {
       "x": {"field": "g", "type": "nominal", "scale": {"type": "band", "domain": ["I", "C"], "paddingInner": 0, "paddingOuter": 0},
             "axis": {"orient": "bottom", "title": null, "labelExpr": "datum.value == 'I' ? 'Intervention group' : 'Control group'", "labelAngle": 0, "labelFontSize": 36, "labelFontWeight": "bold", "labelColor": "#111111", "labelPadding": 2, "labelLimit": 600, "tickColor": "#333333", "tickSize": 12, "tickWidth": 1.5, "domain": false}},
       "y": {"field": "q1", "type": "quantitative", "scale": {"domain": [11, 27], "nice": false, "zero": false},
             "axis": {"orient": "left", "title": "MARS−5 Scores", "titleColor": "#f03a3a", "titleFontSize": 35, "titleFontWeight": "bold", "titlePadding": 10, "titleY": 374,
                      "values": [11, 12, 13, 14, 15, 16, 17, 18, 19, 20, 21, 22, 23, 24, 25, 26, 27],
                      "labelExpr": "datum.value % 2 === 0 ? datum.label : ''", "format": "d", "labelColor": "#f03a3a", "labelFontSize": 36, "labelPadding": 3, "labelFlush": false, "labelOverlap": false,
                      "tickColor": "#f03a3a", "tickWidth": 1.3, "tickSize": {"condition": {"test": "datum.value % 2 !== 0", "value": 4}, "value": 8},
                      "domainColor": "#f03a3a", "domainWidth": 2}},
       "y2": {"field": "q3"},
       "color": {"field": "s", "type": "nominal", "scale": {"domain": ["Baseline", "At 90 days"], "range": ["#fdb9b9", "#bfe4fa"]},
                 "legend": {"orient": "none", "legendX": 666, "legendY": 9, "title": null, "symbolType": "M-1,-0.55H1V0.55H-1Z", "symbolSize": 2025, "symbolStrokeWidth": 0, "labelFontSize": 36, "labelFontWeight": "bold", "labelColor": "#111111", "labelFont": "Liberation Serif", "labelOffset": 8, "rowPadding": 2, "padding": 0, "labelLimit": 300}}
      }
     },
     {"data": {"name": "sB"}, "transform": [{"filter": "datum.s == 'Baseline'"}],
      "mark": {"type": "tick", "size": 62.5, "thickness": 1.5, "xOffset": -33, "color": "#e47272", "opacity": 1},
      "encoding": {"x": {"field": "g", "type": "nominal"}, "y": {"field": "med", "type": "quantitative"}}},
     {"data": {"name": "sB"}, "transform": [{"filter": "datum.s == 'Baseline'"}],
      "mark": {"type": "rule", "xOffset": -64.25, "color": "#f08a8a", "strokeWidth": 1.5},
      "encoding": {"x": {"field": "g", "type": "nominal"}, "y": {"field": "lo", "type": "quantitative"}, "y2": {"field": "hi"}}},
     {"data": {"name": "sB"}, "transform": [{"filter": "datum.s == 'Baseline'"}],
      "mark": {"type": "tick", "size": 44, "thickness": 1.5, "xOffset": -42.25, "color": "#f08a8a", "opacity": 1},
      "encoding": {"x": {"field": "g", "type": "nominal"}, "y": {"field": "lo", "type": "quantitative"}}},
     {"data": {"name": "sB"}, "transform": [{"filter": "datum.s == 'Baseline'"}],
      "mark": {"type": "tick", "size": 44, "thickness": 1.5, "xOffset": -42.25, "color": "#f08a8a", "opacity": 1},
      "encoding": {"x": {"field": "g", "type": "nominal"}, "y": {"field": "hi", "type": "quantitative"}}},
     {"data": {"name": "mB"}, "transform": [{"filter": "datum.s == 'b' && datum.k == 'dash'"}],
      "mark": {"type": "tick", "size": 11, "thickness": 1.3, "xOffset": -64.25, "color": "#f08a8a", "opacity": 1},
      "encoding": {"x": {"field": "g", "type": "nominal"}, "y": {"field": "v", "type": "quantitative"}}},
     {"data": {"name": "Bb"},
      "transform": [{"filter": "datum.g == 'I'"}, {"window": [{"op": "count", "as": "one"}], "frame": [0, 0]}, {"stack": "one", "groupby": ["v"], "as": ["k0", "k1"]}],
      "encoding": {"x": {"field": "g", "type": "nominal"}, "xOffset": {"field": "k0", "type": "quantitative", "scale": {"domain": [0, 10], "range": [151, 106.4]}}, "y": {"field": "v", "type": "quantitative"}},
      "layer": [
       {"mark": {"type": "point", "shape": "circle", "filled": true, "fill": "#ffffff", "stroke": "#f04646", "strokeWidth": 0.7, "size": 81, "opacity": 1}},
       {"mark": {"type": "point", "shape": "M-1,0A1,1 0 0 1 1,0Z", "filled": true, "fill": "#f23a3a", "strokeWidth": 0, "size": 81, "opacity": 1}}
      ]},
     {"data": {"name": "Bb"},
      "transform": [{"filter": "datum.g == 'C'"}, {"window": [{"op": "count", "as": "one"}], "frame": [0, 0]}, {"stack": "one", "groupby": ["v"], "as": ["k0", "k1"]}],
      "encoding": {"x": {"field": "g", "type": "nominal"}, "xOffset": {"field": "k0", "type": "quantitative", "scale": {"domain": [0, 10], "range": [151.5, 106.9]}}, "y": {"field": "v", "type": "quantitative"}},
      "layer": [
       {"mark": {"type": "point", "shape": "circle", "filled": true, "fill": "#ffffff", "stroke": "#f04646", "strokeWidth": 0.7, "size": 81, "opacity": 1}},
       {"mark": {"type": "point", "shape": "M-1,0A1,1 0 0 1 1,0Z", "filled": true, "fill": "#f23a3a", "strokeWidth": 0, "size": 81, "opacity": 1}}
      ]},
     {"data": {"name": "sB"}, "transform": [{"filter": "datum.s == 'Baseline'"}],
      "mark": {"type": "point", "shape": "circle", "filled": true, "fill": "#ffffff", "stroke": "#f4a0a0", "strokeWidth": 1.2, "size": 121, "xOffset": -64.25, "opacity": 1},
      "encoding": {"x": {"field": "g", "type": "nominal"}, "y": {"field": "mean", "type": "quantitative"}}},
     {"data": {"name": "nB"},
      "mark": {"type": "rule", "color": "#a6a6a6", "strokeWidth": 1.5, "xOffset": 0, "x2Offset": 9},
      "encoding": {"x": {"field": "g1", "type": "nominal"}, "x2": {"field": "g2"}, "y": {"field": "top", "type": "quantitative"}}},
     {"data": {"name": "nB"},
      "mark": {"type": "rule", "color": "#a6a6a6", "strokeWidth": 1.5, "xOffset": 0},
      "encoding": {"x": {"field": "g1", "type": "nominal"}, "y": {"field": "top", "type": "quantitative"}, "y2": {"field": "bot"}}},
     {"data": {"name": "nB"},
      "mark": {"type": "rule", "color": "#a6a6a6", "strokeWidth": 1.5, "xOffset": 9},
      "encoding": {"x": {"field": "g2", "type": "nominal"}, "y": {"field": "top", "type": "quantitative"}, "y2": {"field": "bot"}}},
     {"data": {"name": "nB"},
      "mark": {"type": "text", "font": "Liberation Serif", "fontSize": 36, "fontWeight": "bold", "fontStyle": "italic", "align": "right", "baseline": "alphabetic", "dx": -35.5, "color": "#111111"},
      "encoding": {"x": {"field": "g1", "type": "nominal", "bandPosition": 1}, "y": {"field": "ty", "type": "quantitative"}, "text": {"field": "p"}}},
     {"data": {"name": "nB"},
      "mark": {"type": "text", "font": "Liberation Serif", "fontSize": 36, "fontWeight": "bold", "align": "left", "baseline": "alphabetic", "dx": -31, "color": "#111111"},
      "encoding": {"x": {"field": "g1", "type": "nominal", "bandPosition": 1}, "y": {"field": "ty", "type": "quantitative"}, "text": {"field": "t"}}}
    ]
   },
   {
    "resolve": {"scale": {"xOffset": "independent"}},
    "layer": [
     {
      "data": {"name": "sB"},
      "transform": [{"filter": "datum.s == 'At 90 days'"}],
      "mark": {"type": "bar", "width": 62, "xOffset": 32.5, "stroke": "#87cdf4", "strokeWidth": 1.2, "opacity": 1},
      "encoding": {
       "x": {"field": "g", "type": "nominal"},
       "y": {"field": "q1", "type": "quantitative", "scale": {"domain": [11, 27], "nice": false, "zero": false},
             "axis": {"orient": "right", "title": null,
                      "values": [11, 12, 13, 14, 15, 16, 17, 18, 19, 20, 21, 22, 23, 24, 25, 26, 27],
                      "labelExpr": "datum.value % 2 === 0 ? datum.label : ''", "format": "d", "labelColor": "#3aabf0", "labelFontSize": 36, "labelPadding": 3, "labelFlush": false, "labelOverlap": false,
                      "tickColor": "#3aabf0", "tickWidth": 1.3, "tickSize": {"condition": {"test": "datum.value % 2 !== 0", "value": 4}, "value": 8},
                      "domainColor": "#3aabf0", "domainWidth": 2}},
       "y2": {"field": "q3"},
       "color": {"field": "s", "type": "nominal", "scale": {"domain": ["Baseline", "At 90 days"], "range": ["#fdb9b9", "#bfe4fa"]},
                 "legend": {"orient": "none", "legendX": 666, "legendY": 9, "title": null, "symbolType": "M-1,-0.55H1V0.55H-1Z", "symbolSize": 2025, "symbolStrokeWidth": 0, "labelFontSize": 36, "labelFontWeight": "bold", "labelColor": "#111111", "labelFont": "Liberation Serif", "labelOffset": 8, "rowPadding": 2, "padding": 0, "labelLimit": 300}}
      }
     },
     {"data": {"name": "sB"}, "transform": [{"filter": "datum.s == 'At 90 days'"}],
      "mark": {"type": "tick", "size": 62, "thickness": 1.5, "xOffset": 32.5, "color": "#72c0ee", "opacity": 1},
      "encoding": {"x": {"field": "g", "type": "nominal"}, "y": {"field": "med", "type": "quantitative"}}},
     {"data": {"name": "sB"}, "transform": [{"filter": "datum.s == 'At 90 days'"}],
      "mark": {"type": "rule", "xOffset": 63.5, "color": "#8ccff5", "strokeWidth": 1.5},
      "encoding": {"x": {"field": "g", "type": "nominal"}, "y": {"field": "lo", "type": "quantitative"}, "y2": {"field": "hi"}}},
     {"data": {"name": "sB"}, "transform": [{"filter": "datum.s == 'At 90 days'"}],
      "mark": {"type": "tick", "size": 50, "thickness": 1.5, "xOffset": 45, "color": "#8ccff5", "opacity": 1},
      "encoding": {"x": {"field": "g", "type": "nominal"}, "y": {"field": "lo", "type": "quantitative"}}},
     {"data": {"name": "sB"}, "transform": [{"filter": "datum.s == 'At 90 days'"}],
      "mark": {"type": "tick", "size": 50, "thickness": 1.5, "xOffset": 45, "color": "#8ccff5", "opacity": 1},
      "encoding": {"x": {"field": "g", "type": "nominal"}, "y": {"field": "hi", "type": "quantitative"}}},
     {"data": {"name": "mB"}, "transform": [{"filter": "datum.s == 'a' && datum.k == 'dash'"}],
      "mark": {"type": "tick", "size": 11, "thickness": 1.3, "xOffset": 63.5, "color": "#8ccff5", "opacity": 1},
      "encoding": {"x": {"field": "g", "type": "nominal"}, "y": {"field": "v", "type": "quantitative"}}},
     {"data": {"name": "Ba"},
      "transform": [{"filter": "datum.g == 'I'"}, {"window": [{"op": "count", "as": "one"}], "frame": [0, 0]}, {"stack": "one", "groupby": ["v"], "as": ["k0", "k1"]}],
      "encoding": {"x": {"field": "g", "type": "nominal"}, "xOffset": {"field": "k0", "type": "quantitative", "scale": {"domain": [0, 10], "range": [287.75, 316.75]}}, "y": {"field": "v", "type": "quantitative"}},
      "layer": [
       {"mark": {"type": "point", "shape": "circle", "filled": true, "fill": "#ffffff", "stroke": "#45b2f0", "strokeWidth": 0.7, "size": 81, "opacity": 1}},
       {"mark": {"type": "point", "shape": "M-1,0A1,1 0 0 1 1,0Z", "filled": true, "fill": "#33a9f0", "strokeWidth": 0, "size": 81, "opacity": 1}}
      ]},
     {"data": {"name": "Ba"},
      "transform": [{"filter": "datum.g == 'C'"}, {"window": [{"op": "count", "as": "one"}], "frame": [0, 0]}, {"stack": "one", "groupby": ["v"], "as": ["k0", "k1"]}],
      "encoding": {"x": {"field": "g", "type": "nominal"}, "xOffset": {"field": "k0", "type": "quantitative", "scale": {"domain": [0, 10], "range": [288, 322.7]}}, "y": {"field": "v", "type": "quantitative"}},
      "layer": [
       {"mark": {"type": "point", "shape": "circle", "filled": true, "fill": "#ffffff", "stroke": "#45b2f0", "strokeWidth": 0.7, "size": 81, "opacity": 1}},
       {"mark": {"type": "point", "shape": "M-1,0A1,1 0 0 1 1,0Z", "filled": true, "fill": "#33a9f0", "strokeWidth": 0, "size": 81, "opacity": 1}}
      ]},
     {"data": {"name": "sB"}, "transform": [{"filter": "datum.s == 'At 90 days'"}],
      "mark": {"type": "point", "shape": "circle", "filled": true, "fill": "#ffffff", "stroke": "#9fd6f6", "strokeWidth": 1.2, "size": 121, "xOffset": 63.5, "opacity": 1},
      "encoding": {"x": {"field": "g", "type": "nominal"}, "y": {"field": "mean", "type": "quantitative"}}}
    ]
   }
  ]
 }
]
}
